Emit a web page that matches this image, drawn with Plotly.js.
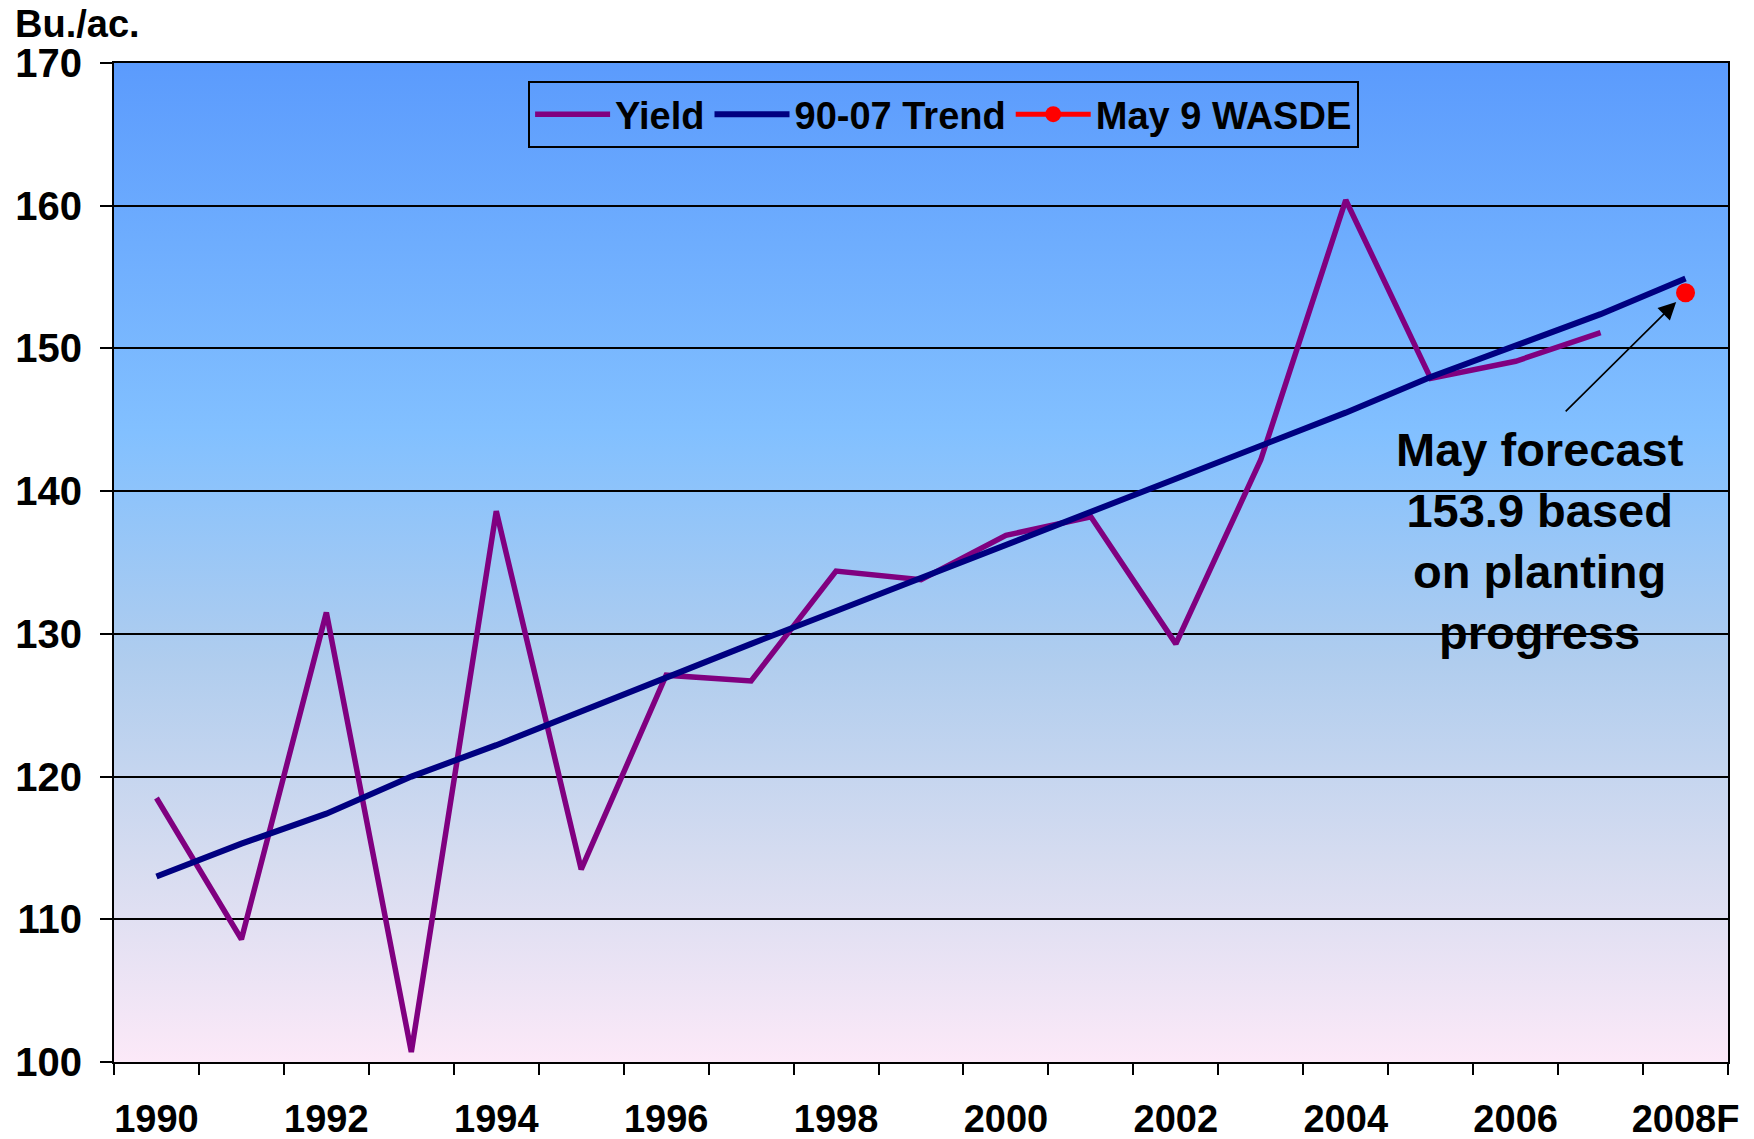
<!DOCTYPE html>
<html>
<head>
<meta charset="utf-8">
<script src="https://cdn.plot.ly/plotly-3.0.1.min.js"></script>
<style>
html,body{margin:0;padding:0;background:#fff;}
#chart{width:1754px;height:1139px;}
</style>
</head>
<body>
<div id="chart"></div>
<script>
// Data
var years = [1990,1991,1992,1993,1994,1995,1996,1997,1998,1999,2000,2001,2002,2003,2004,2005,2006,2007,2008];
var yieldYears = [1990,1991,1992,1993,1994,1995,1996,1997,1998,1999,2000,2001,2002,2003,2004,2005,2006,2007];
var yieldValues = [118.5,108.6,131.5,100.7,138.6,113.5,127.1,126.7,134.4,133.8,136.9,138.2,129.3,142.2,160.4,147.9,149.1,151.1];
var trendValues = [113.0,115.3,117.4,120.0,122.2,124.6,127.0,129.3,131.6,133.9,136.3,138.6,140.9,143.2,145.5,148.0,150.2,152.4,154.9];
var wasdeYear = [2008];
var wasdeValue = [153.9];
var tickYears = [1990,1992,1994,1996,1998,2000,2002,2004,2006,2008];
var tickLabels = ['1990','1992','1994','1996','1998','2000','2002','2004','2006','2008F'];
var seriesNames = ['Yield','90-07 Trend','May 9 WASDE'];

var FONT = 'Liberation Sans, Arial, sans-serif';

var grad = '<svg xmlns="http://www.w3.org/2000/svg" width="100" height="100" preserveAspectRatio="none">' +
  '<defs><linearGradient id="g" x1="0" y1="0" x2="0" y2="1">' +
  '<stop offset="0" stop-color="#5b9bfd"/>' +
  '<stop offset="0.37" stop-color="#82c0ff"/>' +
  '<stop offset="0.6" stop-color="#b0cdee"/>' +
  '<stop offset="0.8" stop-color="#d6dcf0"/>' +
  '<stop offset="1" stop-color="#fce9f8"/>' +
  '</linearGradient></defs><rect width="100" height="100" fill="url(#g)"/></svg>';
var gradURI = 'data:image/svg+xml;base64,' + btoa(grad);

var traces = [
  {x: yieldYears, y: yieldValues, name: seriesNames[0], type: 'scatter', mode: 'lines',
   line: {color: '#800080', width: 5.5}},
  {x: years, y: trendValues, name: seriesNames[1], type: 'scatter', mode: 'lines',
   line: {color: '#000080', width: 6}},
  {x: wasdeYear, y: wasdeValue, name: seriesNames[2], type: 'scatter', mode: 'lines+markers',
   line: {color: '#ff0000', width: 5}, marker: {color: '#ff0000', size: 19}}
];

var layout = {
  width: 1754, height: 1139,
  margin: {l: 114, r: 26, t: 63, b: 77},
  paper_bgcolor: '#ffffff',
  plot_bgcolor: 'rgba(0,0,0,0)',
  font: {family: FONT, size: 38, color: '#000'},
  showlegend: true,
  legend: {
    orientation: 'h', x: 0.514, xanchor: 'center', y: 0.982, yanchor: 'top',
    bgcolor: 'rgba(0,0,0,0)', bordercolor: '#000', borderwidth: 2,
    font: {family: FONT, size: 38, color: '#000', weight: 'bold'},
    itemwidth: 75, tracegroupgap: 0
  },
  xaxis: {
    range: [1989.5, 2008.5], showgrid: false, zeroline: false,
    tickmode: 'array', tickvals: tickYears, ticktext: tickLabels,
    ticks: '', ticklen: 0, ticklabelstandoff: 22,
    tickfont: {family: FONT, size: 38, color: '#000', weight: 'bold'},
    showline: true, linecolor: '#000', linewidth: 2, mirror: true,
    minor: {tick0: 1989.5, dtick: 1, ticks: 'outside', ticklen: 11, tickwidth: 2, tickcolor: '#000', showgrid: false}
  },
  yaxis: {
    range: [100, 170], dtick: 10, tick0: 100, zeroline: false,
    showgrid: true, gridcolor: '#000', gridwidth: 2,
    ticks: 'outside', ticklen: 12, tickwidth: 2, tickcolor: '#000',
    ticklabelstandoff: 10,
    tickfont: {family: FONT, size: 40, color: '#000', weight: 'bold'},
    showline: true, linecolor: '#000', linewidth: 2, mirror: true
  },
  images: [{
    source: gradURI, xref: 'paper', yref: 'paper', x: 0, y: 1, sizex: 1, sizey: 1,
    xanchor: 'left', yanchor: 'top', sizing: 'stretch', layer: 'below'
  }],
  annotations: [
    {text: '<b>Bu./ac.</b>', xref: 'paper', yref: 'paper', x: -0.0626, y: 1.039,
     xanchor: 'left', yanchor: 'middle', showarrow: false,
     font: {family: FONT, size: 38, color: '#000'}},
    {text: '<b>May forecast<br>153.9 based<br>on planting<br>progress</b>', xref: 'paper', yref: 'paper',
     x: 0.8835, y: 0.5215, xanchor: 'center', yanchor: 'middle', align: 'center', showarrow: false,
     font: {family: FONT, size: 47, color: '#000'}},
    {text: '', x: 2007.89, y: 153.26, xref: 'x', yref: 'y', showarrow: true,
     ax: -112, ay: 111, arrowhead: 2, arrowsize: 2.2, arrowwidth: 1.6, arrowcolor: '#000'}
  ]
};

Plotly.newPlot('chart', traces, layout, {displayModeBar: false, staticPlot: true});
</script>
</body>
</html>
